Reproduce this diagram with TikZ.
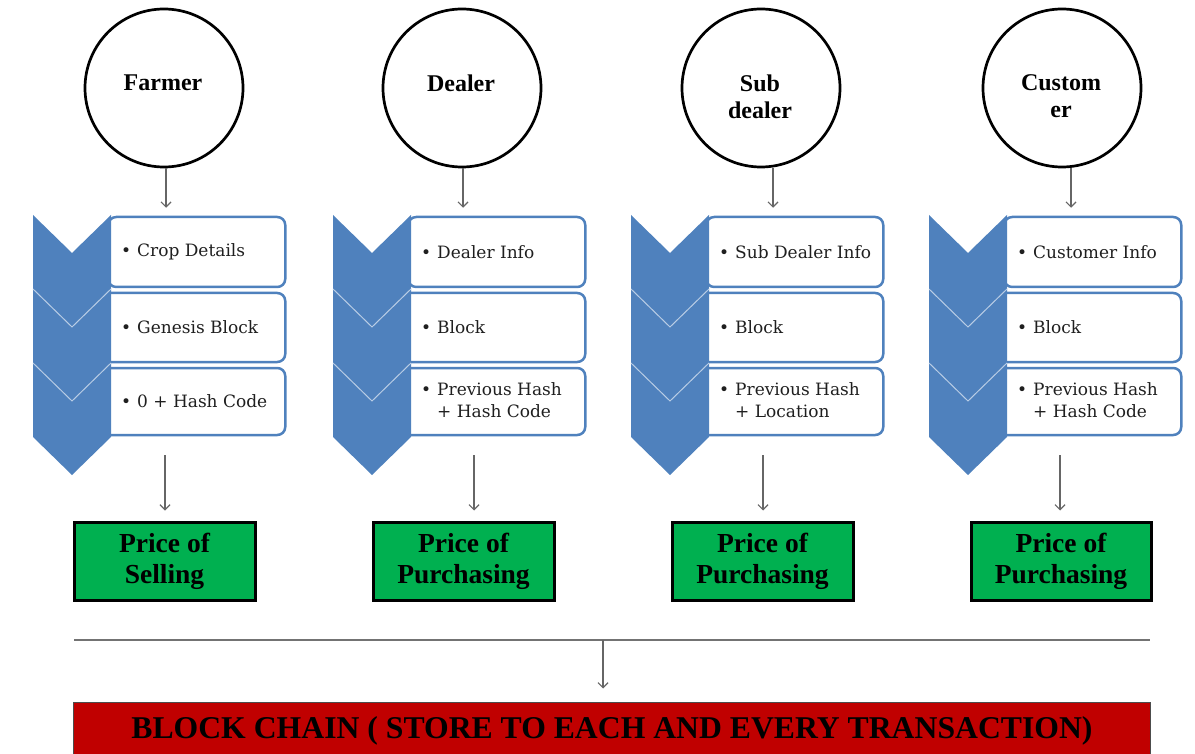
\documentclass[tikz,border=0pt]{standalone}
\usepackage{fontspec}
\setmainfont{Liberation Serif}
\newfontfamily\itemfont{DejaVu Serif}
\usetikzlibrary{arrows.meta}
\definecolor{chev}{HTML}{4F81BD}
\definecolor{gbox}{HTML}{00B050}
\definecolor{rbar}{HTML}{C00000}
\newcommand\chevcol[2]{%
  \node[infobox, minimum height=70pt, minimum width=177pt] (#2b1) at ({#1+253.5},252) {};
  \node[infobox, minimum height=69pt] (#2b2) at ({#1+253.5},327.5) {};
  \node[infobox, minimum height=67pt] (#2b3) at ({#1+253.5},401.5) {};
  \fill[chev] (#1,215) -- ++(39,38) -- ++(39,-38) -- ++(0,222) -- ++(-39,38) -- ++(-39,-38) -- cycle;
  \draw[sepline] (#1,289) -- ++(39,38) -- ++(39,-38);
  \draw[sepline] (#1,363) -- ++(39,38) -- ++(39,-38);
}
\begin{document}
\begin{tikzpicture}[x=1pt,y=-1pt,
  actor/.style={circle, draw=black, line width=2.7pt, minimum size=158pt, inner sep=0pt},
  actorlabel/.style={font=\fontsize{24}{27}\selectfont\bfseries, align=center, inner sep=0pt},
  infobox/.style={draw=chev, line width=2.5pt, fill=white, rounded corners=8pt, minimum width=186pt, anchor=east},
  itemtext/.style={font=\itemfont\fontsize{17}{22}\selectfont, text=black!88, anchor=west, inner sep=0pt, align=left},
  pricebox/.style={draw=black, line width=3pt, fill=gbox, minimum width=180pt, minimum height=78pt, font=\fontsize{27.5}{31}\selectfont\bfseries, align=center, inner sep=0pt},
  arr/.style={draw=black!60, line width=1.2pt, -{Straight Barb[length=5pt,width=10pt]}},
  sepline/.style={draw=chev!40!white, line width=1pt}
]
\useasboundingbox (0,0) rectangle (1195,754);
\clip (0,0) rectangle (1195,754);

% actors
\node[actor] (farmer) at (164,88) {};
\node[actor] (dealer) at (462,88) {};
\node[actor] (sub) at (761,88) {};
\node[actor] (cust) at (1062,88) {};
\node[actorlabel] (farmerlbl) at (163,83) {Farmer};
\node[actorlabel] (dealerlbl) at (461,83) {Dealer};
\node[actorlabel] (sublbl) at (760,96.5) {Sub\\dealer};
\node[actorlabel] (custlbl) at (1061,96.5) {Custom\\er};

% chevron columns
\chevcol{33}{f}
\chevcol{333}{d}
\chevcol{631}{s}
\chevcol{929}{c}

% item texts
\node[itemtext] (ft1) at (121,252) {\makebox[16pt][l]{•}Crop Details};
\node[itemtext] (ft2) at (121,327) {\makebox[16pt][l]{•}Genesis Block};
\node[itemtext] (ft3) at (121,401) {\makebox[16pt][l]{•}0 + Hash Code};

\node[itemtext] (dt1) at (421,252) {\makebox[16pt][l]{•}Dealer Info};
\node[itemtext] (dt2) at (421,327) {\makebox[16pt][l]{•}Block};
\node[itemtext] (dt3) at (421,400) {\makebox[16pt][l]{•}Previous Hash\\\hspace*{16pt}+ Hash Code};

\node[itemtext] (st1) at (719,252) {\makebox[16pt][l]{•}Sub Dealer Info};
\node[itemtext] (st2) at (719,327) {\makebox[16pt][l]{•}Block};
\node[itemtext] (st3) at (719,400) {\makebox[16pt][l]{•}Previous Hash\\\hspace*{16pt}+ Location};

\node[itemtext] (ct1) at (1017,252) {\makebox[16pt][l]{•}Customer Info};
\node[itemtext] (ct2) at (1017,327) {\makebox[16pt][l]{•}Block};
\node[itemtext] (ct3) at (1017,400) {\makebox[16pt][l]{•}Previous Hash\\\hspace*{16pt}+ Hash Code};

% price boxes
\node[pricebox, minimum width=181pt] (fp) at (164.5,561) {Price of\\Selling};
\node[pricebox, minimum width=181pt] (dp) at (463.5,561) {Price of\\Purchasing};
\node[pricebox, minimum width=181pt] (sp) at (762.5,561) {Price of\\Purchasing};
\node[pricebox, minimum width=180pt] (cp) at (1061,561) {Price of\\Purchasing};

% arrows from actors to chevrons
\draw[arr, shorten >=8pt] ([xshift=2pt]farmer.south) -- ([xshift=2pt]farmer.south |- fb1.north);
\draw[arr, shorten >=8pt] ([xshift=1pt]dealer.south) -- ([xshift=1pt]dealer.south |- db1.north);
\draw[arr, shorten >=8pt] ([xshift=12pt]sub.south) -- ([xshift=12pt]sub.south |- sb1.north);
\draw[arr, shorten >=8pt] ([xshift=9pt]cust.south) -- ([xshift=9pt]cust.south |- cb1.north);

% arrows from chevrons to price boxes
\coordinate (fo) at (165,455);
\coordinate (do) at (474,455);
\coordinate (so) at (763,455);
\coordinate (co) at (1060,455);
\draw[arr, shorten >=10pt] (fo) -- (fo |- fp.north);
\draw[arr, shorten >=10pt] (do) -- (do |- dp.north);
\draw[arr, shorten >=10pt] (so) -- (so |- sp.north);
\draw[arr, shorten >=10pt] (co) -- (co |- cp.north);

% collecting line and block chain
\coordinate (hl) at (74,640);
\coordinate (hr) at (1150,640);
\coordinate (hm) at (603,640);
\draw[draw=black!55, line width=2pt] (hl) -- (hr);
\node[draw=black!70, line width=1pt, fill=rbar, minimum width=1077pt, minimum height=70pt, inner sep=0pt] (chain) at (611.5,737) {};
\draw[arr, shorten >=13pt] (hm) -- (hm |- chain.north);
\node[font=\fontsize{31.7}{34}\selectfont\bfseries, inner sep=0pt] (chaintext) at (612,731) {BLOCK CHAIN ( STORE TO EACH AND EVERY TRANSACTION)};
\end{tikzpicture}
\end{document}
